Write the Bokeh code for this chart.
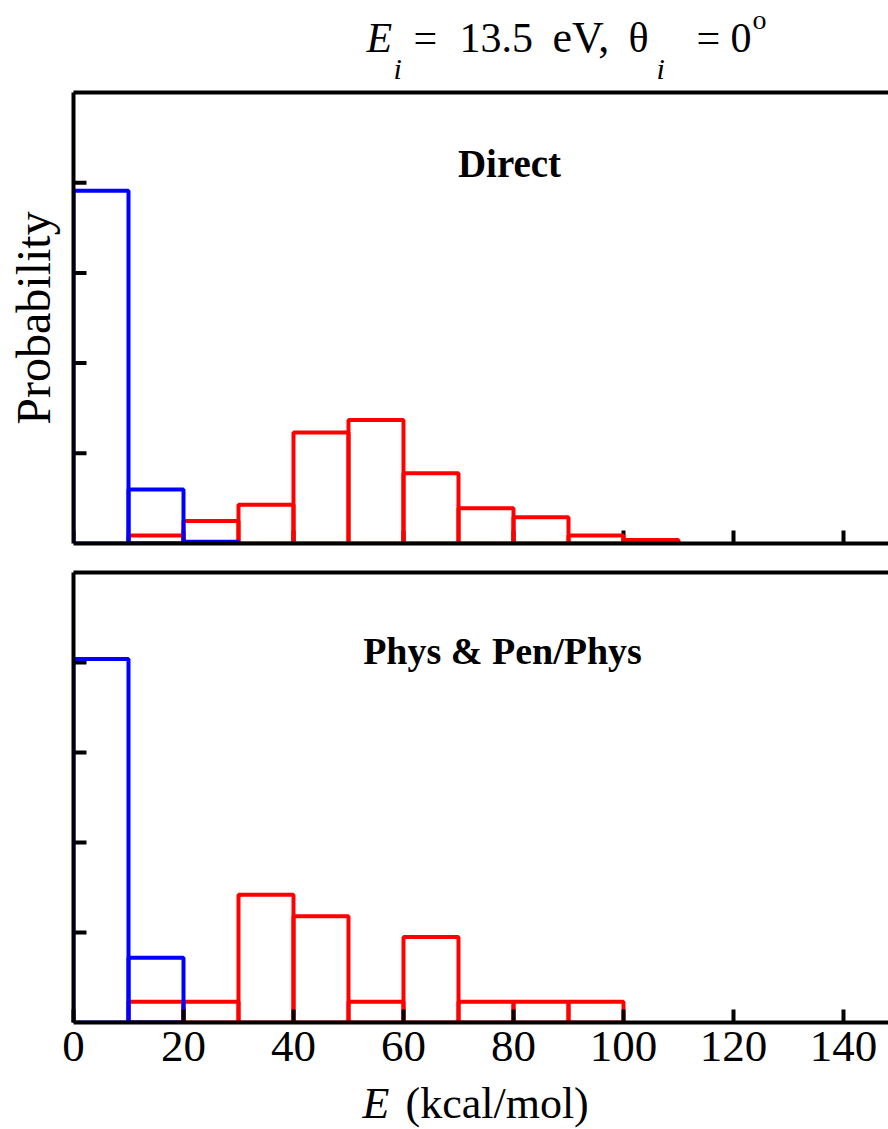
import math
from bokeh.plotting import figure
from bokeh.models import Range1d, FixedTicker, LinearAxis
from bokeh.core.properties import value
from bokeh.layouts import column
from bokeh.embed import file_html
from bokeh.resources import INLINE

# ---- data (probability histograms, 10 kcal/mol bins) ----
bin_width = 10
x_ticks = [0, 20, 40, 60, 80, 100, 120, 140]
y_ticks = [1, 2, 3, 4]

# Direct channel
direct_blue_left = [0, 10, 20]
direct_blue = [3.91, 0.60, 0.02]
direct_red_left = [10, 20, 30, 40, 50, 60, 70, 80, 90, 100]
direct_red = [0.09, 0.25, 0.43, 1.23, 1.37, 0.78, 0.39, 0.29, 0.09, 0.04]

# Phys & Pen/Phys channel
phys_blue_left = [0, 10]
phys_blue = [4.04, 0.72]
phys_red_left = [10, 20, 30, 40, 50, 60, 70, 80, 90]
phys_red = [0.23, 0.23, 1.42, 1.18, 0.23, 0.95, 0.23, 0.23, 0.23]

FONT = "Liberation Serif"
BLUE = "#0000FF"
RED = "#FF0000"
W = 888
LEFT = 73
SCALE_X = 5.5
X_END = (W - LEFT) / SCALE_X
BASE_FIX = 0.35  # renderer puts the alphabetic baseline ~0.35 em lower


def px_x(px):
    return (px - LEFT) / SCALE_X


def base_fig(height, top, bottom):
    p = figure(width=W, height=height, x_range=Range1d(0, X_END), y_range=Range1d(0, 5),
               output_backend="svg", toolbar_location=None, title=None,
               min_border_left=LEFT, min_border_right=0,
               min_border_top=top, min_border_bottom=bottom)
    p.grid.visible = False
    p.outline_line_color = None
    p.background_fill_color = "white"
    p.border_fill_color = "white"
    return p


def line_axis(ax):
    ax.ticker = FixedTicker(ticks=[])
    ax.axis_line_width = 4
    ax.axis_line_color = "black"
    ax.major_tick_line_color = None
    ax.minor_tick_line_color = None
    ax.major_label_standoff = 0


def make_panel(height, top, bottom, labeled_x, ylabel):
    p = base_fig(height, top, bottom)
    xa = p.xaxis[0]
    if labeled_x:
        xa.ticker = FixedTicker(ticks=x_ticks)
        xa.axis_line_width = 4
        xa.axis_line_color = "black"
        xa.major_tick_in = 13
        xa.major_tick_out = 0
        xa.major_tick_line_width = 4
        xa.major_tick_line_color = "black"
        xa.minor_tick_line_color = None
        xa.major_label_text_font = FONT
        xa.major_label_text_font_size = "45px"
        xa.major_label_text_color = "black"
        xa.major_label_standoff = 9
    else:
        line_axis(xa)
        # inward tick marks (outer half clipped by the frame)
        p.scatter(x=x_ticks, y=[0] * len(x_ticks), marker="dash", size=26, angle=math.pi / 2,
                  line_color="black", line_width=4)
    line_axis(p.yaxis[0])
    p.scatter(x=[0] * len(y_ticks), y=y_ticks, marker="dash", size=26,
              line_color="black", line_width=4)
    if ylabel:
        ya = p.yaxis[0]
        ya.axis_label = ylabel
        ya.axis_label_text_font = FONT
        ya.axis_label_text_font_size = "48px"
        ya.axis_label_text_font_style = "normal"
        ya.axis_label_text_color = "black"
        ya.axis_label_standoff = 14
    topax = LinearAxis()
    line_axis(topax)
    p.add_layout(topax, "above")
    return p


def hist(p, lefts, vals, color):
    p.quad(left=lefts, right=[l + bin_width for l in lefts], bottom=0, top=vals,
           fill_color=None, line_color=color, line_width=4)


def text_fig(height):
    p = figure(width=W, height=height, x_range=Range1d(0, X_END), y_range=Range1d(height, 0),
               output_backend="svg", toolbar_location=None, title=None,
               x_axis_type=None, y_axis_type=None,
               min_border_left=LEFT, min_border_right=0, min_border_top=0, min_border_bottom=0)
    p.grid.visible = False
    p.outline_line_color = None
    p.background_fill_color = "white"
    p.border_fill_color = "white"
    return p


def put(p, px, base_px, text, fs, style="normal"):
    """text in a strip whose y is measured in pixels from the strip top"""
    p.text(x=[px_x(px)], y=[base_px - BASE_FIX * fs], text=[text], text_font=value(FONT),
           text_font_size=f"{fs}px", text_font_style=style, text_align="left",
           text_baseline="alphabetic", text_color="black")


def put_panel(p, cx, base_px, axis_px, scale, text, fs):
    """bold centred label inside a panel; base_px/axis_px are page pixels"""
    y = (axis_px - (base_px - BASE_FIX * fs)) / scale
    p.text(x=[px_x(cx)], y=[y], text=[text], text_font=value(FONT), text_font_size=f"{fs}px",
           text_font_style="bold", text_align="center", text_baseline="alphabetic",
           text_color="black")


# ---- title strip (page y 0..84) ----
t = text_fig(84)
put(t, 366, 52, "E", 42, "italic")
put(t, 393, 78, "i", 30, "italic")
put(t, 413, 52, "=", 42)
put(t, 459, 52, "13.5", 42)
put(t, 552, 52, "eV,", 44)
put(t, 628, 52, "θ", 42)
put(t, 656, 78, "i", 30, "italic")
put(t, 696, 52, "=", 42)
put(t, 730, 52, "0", 42)
put(t, 752, 29, "o", 28)

# ---- top panel (frame 92..543) ----
p1 = make_panel(8 + 451 + 14, 8, 14, False, "Probability")
hist(p1, direct_red_left, direct_red, RED)
hist(p1, direct_blue_left, direct_blue, BLUE)
put_panel(p1, 509, 177, 543, 90.2, "Direct", 39)

# ---- bottom panel (frame 572..1022) ----
p2 = make_panel(15 + 450 + 62, 15, 62, True, None)
hist(p2, phys_red_left, phys_red, RED)
hist(p2, phys_blue_left, phys_blue, BLUE)
put_panel(p2, 502, 662, 1022.7, 90.5, "Phys & Pen/Phys", 38)

# ---- x-axis title strip ----
used = 84 + (8 + 451 + 14) + (15 + 450 + 62)
xl = text_fig(1129 - used)
put(xl, 362, 1118 - used, "E", 44, "italic")
put(xl, 405, 1118 - used, "(kcal/mol)", 44)

layout = column(t, p1, p2, xl, spacing=0)
open("out.html", "w").write(file_html(layout, INLINE))
